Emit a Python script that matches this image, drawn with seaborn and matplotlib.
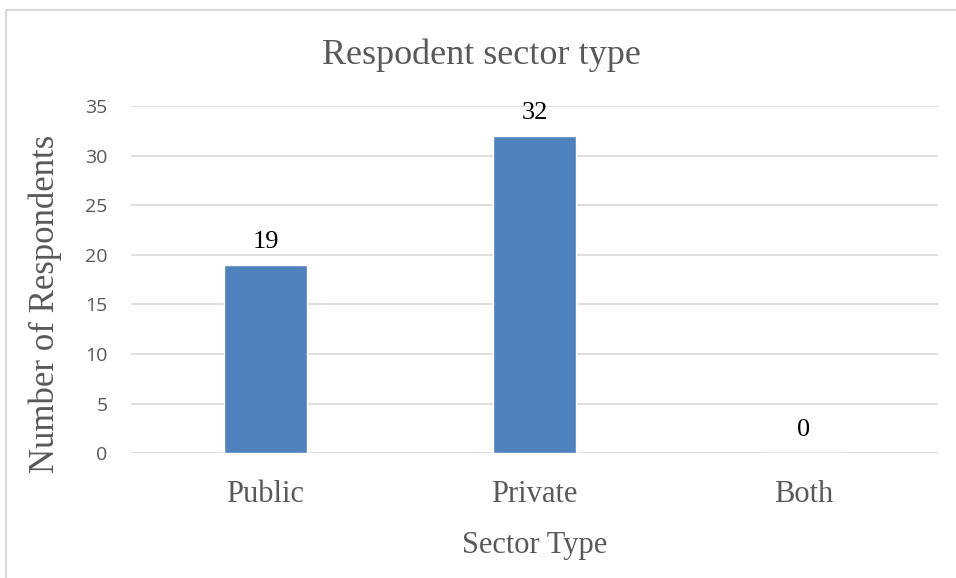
import matplotlib
matplotlib.use("Agg")
import matplotlib.pyplot as plt
from matplotlib.patches import Rectangle
import seaborn as sns
import pandas as pd

# Survey results: respondents per sector
categories = ["Public", "Private", "Both"]
respondents = [19, 32, 0]
y_ticks = [0, 5, 10, 15, 20, 25, 30, 35]

title = "Respodent sector type"
x_label = "Sector Type"
y_label = "Number of Respondents"

bar_color = "#4F81BD"
text_gray = "#595959"
grid_gray = "#D9D9D9"
serif = ["Liberation Serif", "DejaVu Serif"]
sans = ["Open Sans", "DejaVu Sans"]

sns.set_theme(style="white")
plt.rcParams["font.family"] = serif

df = pd.DataFrame({"sector": categories, "count": respondents})

fig = plt.figure(figsize=(9.56, 5.78), dpi=100)
ax = fig.add_axes([131 / 956, 1 - 453.3 / 578, (938 - 131) / 956, (453.3 - 106) / 578])

sns.barplot(data=df, x="sector", y="count", color=bar_color, saturation=1,
            width=0.31, ax=ax, zorder=3)

ax.set_ylim(0, 35)
ax.set_xlim(-0.5, len(categories) - 0.5)
ax.set_yticks(y_ticks)
ax.yaxis.grid(True, color=grid_gray, linewidth=1.2, zorder=0)
ax.set_axisbelow(True)
for s in ax.spines.values():
    s.set_visible(False)

ax.tick_params(axis="both", length=0)
ax.tick_params(axis="y", pad=17, labelcolor=text_gray)
ax.tick_params(axis="x", pad=19, labelcolor=text_gray)
for lbl in ax.get_yticklabels():
    lbl.set_fontfamily(sans)
    lbl.set_fontsize(14)
for lbl in ax.get_xticklabels():
    lbl.set_fontfamily(serif)
    lbl.set_fontsize(22)

# Value labels above each bar
for i, v in enumerate(respondents):
    ax.annotate(str(v), xy=(i, v), xytext=(0, 12.2), textcoords="offset points",
                ha="center", va="baseline", fontsize=19, color="black",
                family=serif)

ax.set_xlabel(x_label, fontsize=22, color=text_gray, family=serif)
ax.set_ylabel(y_label, fontsize=25, color=text_gray, family=serif)
ax.xaxis.set_label_coords(0.5, -0.225)
ax.yaxis.set_label_coords(-0.085, 0.431)

fig.text(481 / 956, 1 - 55 / 578, title, ha="center", va="center",
         fontsize=26, color=text_gray, family=serif)

# Light chart-area frame
fig.patches.append(Rectangle((6 / 956, -0.05), 1.2, 1.05 - 10 / 578,
                             transform=fig.transFigure, fill=False,
                             edgecolor=grid_gray, linewidth=1.5, zorder=0))

fig.savefig("out.png", dpi=100, facecolor="white")
